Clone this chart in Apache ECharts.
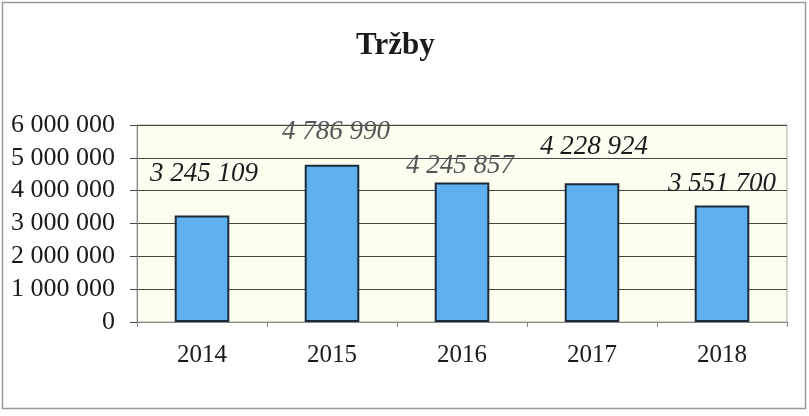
<!DOCTYPE html>
<html><head><meta charset="utf-8">
<script src="https://cdn.jsdelivr.net/npm/echarts@6/dist/echarts.min.js"></script>
<style>html,body{margin:0;padding:0;background:#fff}#c{width:809px;height:416px}</style>
</head><body><div id="c"></div>
<script>
const title = 'Tržby';
const categories = ['2014', '2015', '2016', '2017', '2018'];
const revenue = [3245109, 4786990, 4245857, 4228924, 3551700];
const yTicks = [0, 1000000, 2000000, 3000000, 4000000, 5000000, 6000000];

function fmt(v) { return String(v).replace(/\B(?=(\d{3})+(?!\d))/g, ' '); }

// label placement tweaks (style only)
const labelShift = [[2, -23], [4, -14], [-2, 2], [2, -18], [0, -3]];
const labelColor = ['#1a1a1a', '#555', '#555', '#1a1a1a', '#1a1a1a'];

const chart = echarts.init(document.getElementById('c'), null, { renderer: 'canvas' });
const serif = '"Liberation Serif", "Times New Roman", serif';
chart.setOption({
  animation: false,
  backgroundColor: '#fff',
  graphic: [
    { type: 'rect', shape: { x: 2.5, y: 2.5, width: 803, height: 406 }, style: { fill: 'none', stroke: '#999', lineWidth: 1.5 }, z: -1 }
  ],
  title: {
    text: title, left: 351, top: 25,
    textStyle: { fontFamily: serif, fontWeight: 'bold', fontSize: 31, color: '#1a1a1a' }
  },
  grid: {
    left: 137, right: 22, top: 125, bottom: 94,
    show: true, backgroundColor: '#fdfdf0', borderColor: '#aaa', borderWidth: 1
  },
  xAxis: {
    type: 'category', data: categories,
    axisLine: { lineStyle: { color: '#888', width: 1 } },
    axisTick: { show: true, length: 5, lineStyle: { color: '#888' } },
    axisLabel: { fontFamily: serif, fontSize: 25, color: '#1a1a1a', margin: 21 }
  },
  yAxis: {
    type: 'value', min: yTicks[0], max: yTicks[yTicks.length - 1], interval: 1000000,
    axisLine: { show: true, lineStyle: { color: '#888' } },
    axisTick: { show: true, length: 7, lineStyle: { color: '#444' } },
    splitLine: { lineStyle: { color: '#444', width: 1.2 } },
    axisLabel: { fontFamily: serif, fontSize: 26, color: '#1a1a1a', margin: 22, formatter: fmt }
  },
  series: [{
    type: 'bar', barWidth: '42%',
    itemStyle: { color: '#5eb0ef', borderColor: '#1d2b38', borderWidth: 2 },
    label: {
      show: true, position: 'top', fontFamily: serif, fontStyle: 'italic',
      fontSize: 27, formatter: p => fmt(p.value)
    },
    data: revenue.map((v, i) => ({
      value: v,
      label: { offset: labelShift[i], color: labelColor[i] }
    }))
  }]
});
</script></body></html>
